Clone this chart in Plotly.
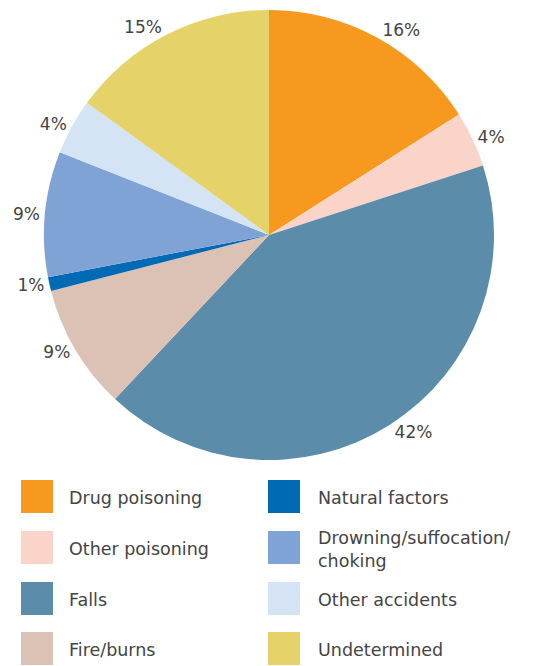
import plotly.graph_objects as go

categories = ["Drug poisoning", "Other poisoning", "Falls", "Fire/burns",
              "Natural factors", "Drowning/suffocation/choking",
              "Other accidents", "Undetermined"]
values = [16, 4, 42, 9, 1, 9, 4, 15]
colors = ["#F7991F", "#FAD4C9", "#5B8DAA", "#DCC2B4",
          "#006AB4", "#7FA3D4", "#D4E4F4", "#E5D36A"]
legend_labels = ["Drug poisoning", "Other poisoning", "Falls", "Fire/burns",
                 "Natural factors", "Drowning/suffocation/<br>choking",
                 "Other accidents", "Undetermined"]

OFF = 8  # page body margin
W, H = 547 - OFF, 666 - OFF
FONT = "DejaVu Sans"
TXT = "#444444"

cx, cy, r = 269 - OFF, 235 - OFF, 225


def px(x):
    return (x - OFF) / W


def py(y):
    return 1 - (y - OFF) / H


fig = go.Figure()
fig.add_trace(go.Pie(
    labels=categories, values=values, sort=False, direction="clockwise",
    rotation=0, marker=dict(colors=colors, line=dict(width=0)),
    text=[f"{v}%" for v in values], textinfo="text", textposition="outside",
    textfont=dict(family=FONT, size=17, color=TXT),
    automargin=False, showlegend=False, hoverinfo="label+percent",
    domain=dict(x=[(cx - r) / W, (cx + r) / W], y=[1 - (cy + r) / H, 1 - (cy - r) / H]),
))

# custom two-column legend
shapes = []
annotations = []
row_tops = [480, 531, 582, 632]
for i, (lab, col) in enumerate(zip(legend_labels, colors)):
    colx = i // 4
    row = i % 4
    x0 = 21 if colx == 0 else 268
    tx = 69 if colx == 0 else 318
    y0 = row_tops[row]
    shapes.append(dict(type="rect", xref="paper", yref="paper",
                       x0=px(x0), x1=px(x0 + 32),
                       y0=py(y0 + 33), y1=py(y0),
                       fillcolor=col, line=dict(width=0)))
    annotations.append(dict(xref="paper", yref="paper", x=px(tx - 2),
                            y=py(y0 + 18), text=lab, showarrow=False,
                            xanchor="left", yanchor="middle", align="left",
                            font=dict(family=FONT, size=17.5, color=TXT)))

fig.update_layout(
    width=W, height=H, margin=dict(l=0, r=0, t=0, b=0),
    paper_bgcolor="white", plot_bgcolor="white",
    shapes=shapes, annotations=annotations,
)
fig.write_html("out.html")
